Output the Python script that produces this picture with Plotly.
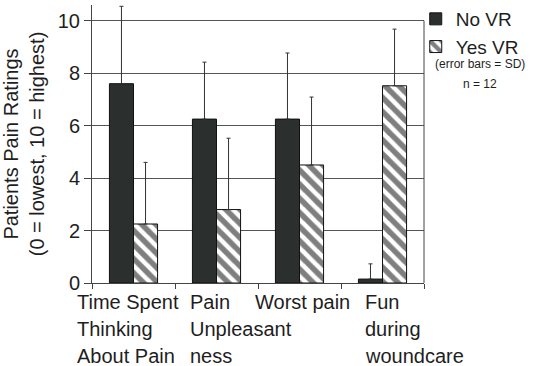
import plotly.graph_objects as go

categories = ["Time Spent", "Pain", "Worst pain", "Fun"]
label_lines = [
    ["Time Spent", "Thinking", "About Pain"],
    ["Pain", "Unpleasant", "ness"],
    ["Worst pain"],
    ["Fun", "during", "woundcare"],
]
no_vr = [7.6, 6.25, 6.25, 0.15]
no_vr_sd = [2.95, 2.17, 2.52, 0.58]
yes_vr = [2.25, 2.8, 4.5, 7.52]
yes_vr_sd = [2.35, 2.72, 2.59, 2.16]
zeros = [0, 0, 0, 0]

FONT = "Liberation Sans, Arial, sans-serif"
TXT = "#1e1e1e"
AX = "#444"

fig = go.Figure()
fig.add_trace(go.Bar(
    name="No VR", x=categories, y=no_vr,
    marker=dict(color="#2b302f", line=dict(color="#111", width=1)),
    error_y=dict(type="data", symmetric=False, array=no_vr_sd, arrayminus=zeros,
                 color="#333", thickness=1, width=2),
))
fig.add_trace(go.Bar(
    name="Yes VR", x=categories, y=yes_vr,
    marker=dict(color="white", line=dict(color="#111", width=1),
                pattern=dict(shape="\\", fgcolor="#000", bgcolor="white",
                             size=10, solidity=0.55)),
    error_y=dict(type="data", symmetric=False, array=yes_vr_sd, arrayminus=zeros,
                 color="#333", thickness=1, width=2),
))

# left-aligned multi-line category labels, one annotation per line
label_shift = [-59, -29, -47, -20]
line_gap = 27
for cat, lines, sh in zip(categories, label_lines, label_shift):
    for i, line in enumerate(lines):
        fig.add_annotation(
            x=cat, y=0, xref="x", yref="y", yanchor="middle", xanchor="left",
            xshift=sh, yshift=-19 - i * line_gap, align="left", showarrow=False,
            text=line, font=dict(family=FONT, size=20, color=TXT),
        )

# notes under the legend (pixel rows ~64 and ~84 from the top)
fig.add_annotation(x=1.169, y=(283 - 64) / 278, xref="paper", yref="paper", showarrow=False,
                   text="(error bars = SD)", font=dict(family=FONT, size=12, color=TXT),
                   xanchor="center", yanchor="middle")
fig.add_annotation(x=1.169, y=(283 - 84) / 278, xref="paper", yref="paper", showarrow=False,
                   text="n = 12", font=dict(family=FONT, size=12, color=TXT),
                   xanchor="center", yanchor="middle")

# right frame line (from 0 to 10)
fig.add_shape(type="line", xref="paper", yref="y", x0=1, x1=1, y0=0, y1=10,
              line=dict(color=AX, width=1))

fig.update_layout(
    width=533, height=366,
    margin=dict(l=92, r=109, t=5, b=83, autoexpand=False),
    paper_bgcolor="white", plot_bgcolor="white",
    barmode="group", bargap=0.42, bargroupgap=0,
    font=dict(family=FONT, size=18, color=TXT),
    showlegend=True,
    legend=dict(xref="container", yref="container", x=0.78, xanchor="left",
                y=1.0, yanchor="top",
                font=dict(family=FONT, size=19, color=TXT),
                bgcolor="rgba(0,0,0,0)", itemwidth=30, tracegroupgap=0),
    xaxis=dict(
        range=[-0.5, 3.5], autorange=False,
        showticklabels=False, ticks="outside", tickson="boundaries", ticklen=5,
        tickcolor=AX, showline=True, linecolor=AX, linewidth=1,
        mirror=False, showgrid=False,
    ),
    yaxis=dict(
        range=[0, 10.6], autorange=False, tickvals=[0, 2, 4, 6, 8, 10],
        ticks="outside", ticklen=7, tickcolor=AX,
        showline=True, linecolor=AX, linewidth=1, mirror=False,
        showgrid=True, gridcolor="#555", gridwidth=1, zeroline=False,
        tickfont=dict(family=FONT, size=20, color=TXT),
        title=dict(text="Patients Pain Ratings<br>(0 = lowest, 10 = highest)",
                   font=dict(family=FONT, size=20, color=TXT), standoff=10),
    ),
)

fig.write_html("out.html", config={"displayModeBar": False},
               post_script="document.body.style.margin='0';")
